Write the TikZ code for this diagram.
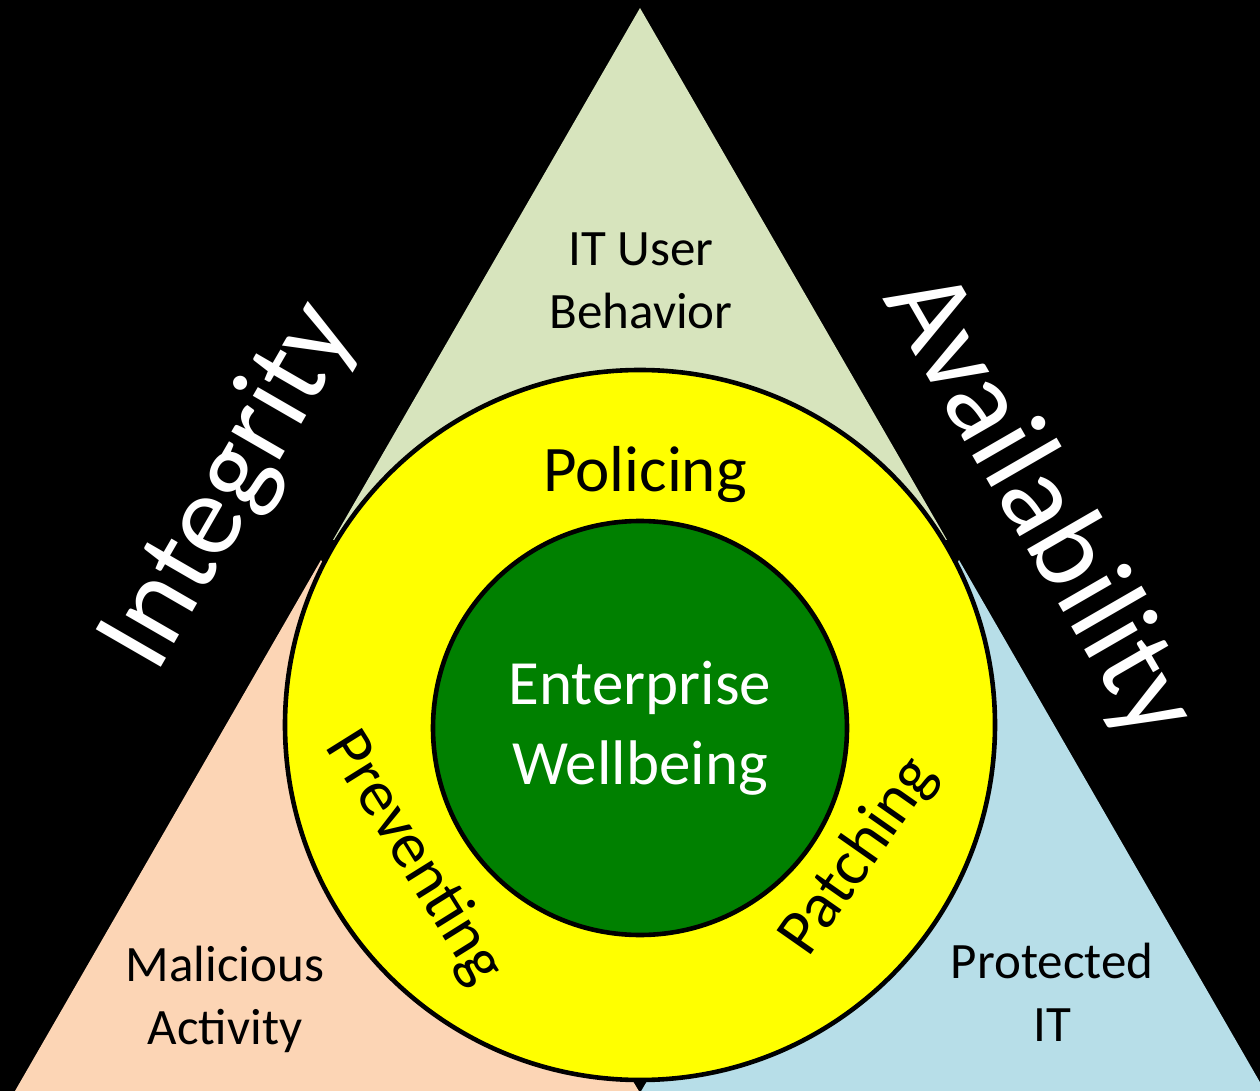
\documentclass[tikz,border=0pt]{standalone}
\usepackage{fontspec}
\setmainfont{Carlito}
\usepackage{tikz}
\definecolor{behav}{HTML}{D7E4BD}
\definecolor{malic}{HTML}{FCD5B5}
\definecolor{prot}{HTML}{B7DEE8}
\definecolor{ringyellow}{HTML}{FFFF00}
\definecolor{coregreen}{HTML}{008000}

\begin{document}
\begin{tikzpicture}[x=0.5pt, y=-0.5pt,
    areatext/.style={font=\fontsize{25.5}{31.5}\selectfont, align=center},
    ringtext/.style={font=\fontsize{32.5}{38}\selectfont},
    pillar/.style={font=\fontsize{58.5}{66}\selectfont, text=white, inner sep=0pt}]
    \useasboundingbox (0,0) rectangle (1260,1091);
    \fill [black] (0,0) rectangle (1260,1091);

    %% the triangle, cut in three
    \begin{scope}
      \clip (0,0) rectangle (1260,1091);
      \fill [behav] (640,8) -- (333,540) -- (947,540) -- cycle;
      \fill [malic] (321,560) -- (15,1091) -- (640,1093) -- cycle;
      \fill [prot] (959,560) -- (640,1093) -- (1265,1091) -- cycle;
    \end{scope}

    \node [areatext] (user) at (641,281) {IT User\\Behavior};
    \node [areatext] (malicious) at (225,999) {Malicious\\Activity};
    \node [areatext] (protected) at (1052,992) {Protected\\IT};

    %% rings in the middle
    \node [circle, draw, line width=2.3pt, fill=ringyellow, minimum size=355pt,
      inner sep=0pt] (ring) at (640,725) {};
    \node [circle, draw, line width=2.3pt, fill=coregreen, minimum size=207pt,
      inner sep=0pt, text=white, align=center,
      font=\fontsize{31.5}{40}\selectfont] (core) at (640,728)
      {Enterprise\\Wellbeing};

    \node [ringtext, anchor=base] (policing) at (645,492) {Policing};
    \node [ringtext, rotate=-58] (preventing) at (414,858) {Preventing};
    \node [ringtext, rotate=55] (patching) at (859,857) {Patching};

    %% the two sides
    \node [pillar, rotate=60, anchor=base west] (integrity) at (156,676) {Integrity};
    \node [pillar, rotate=-60, anchor=base west] (availability) at (882,298) {Availability};
\end{tikzpicture}
\end{document}
